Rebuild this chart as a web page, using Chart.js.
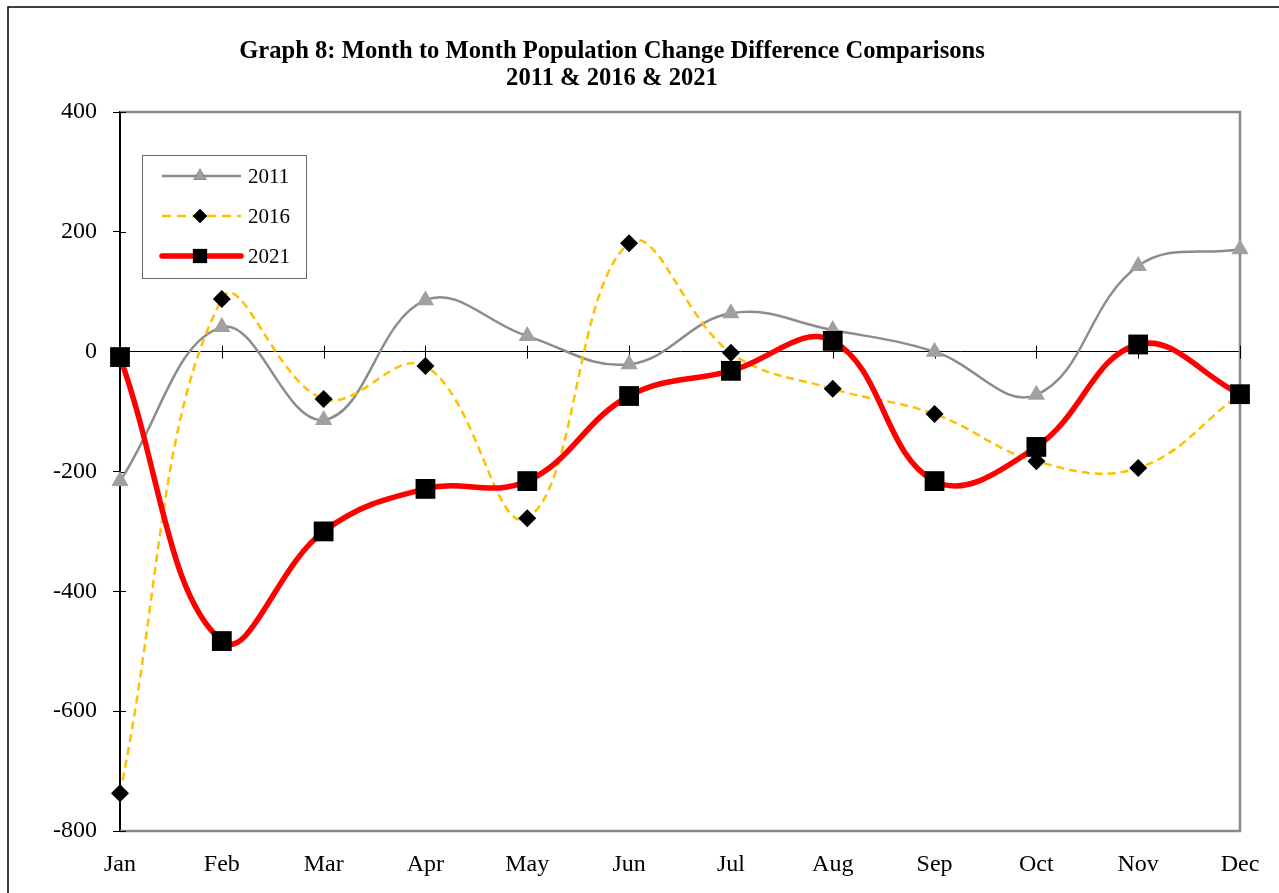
<!DOCTYPE html>
<html>
<head>
<meta charset="utf-8">
<script src="https://cdn.jsdelivr.net/npm/chart.js@4.4.0/dist/chart.umd.min.js"></script>
<style>
html,body{margin:0;padding:0;background:#fff;}
#wrap{position:relative;width:1279px;height:893px;}
</style>
</head>
<body>
<div id="wrap"><canvas id="c" width="1279" height="893"></canvas></div>
<script>
const months = ['Jan','Feb','Mar','Apr','May','Jun','Jul','Aug','Sep','Oct','Nov','Dec'];
const series2011 = [-216, 41, -114, 86, 26, -21, 64, 36, 0, -72, 143, 171];
const series2016 = [-737, 88, -79, -24, -278, 181, -2, -62, -104, -183, -194, -71];
const series2021 = [-9, -483, -300, -229, -216, -74, -32, 18, -216, -159, 12, -71];
const yTicks = [400, 200, 0, -200, -400, -600, -800];
const titleLines = ['Graph 8: Month to Month Population Change Difference Comparisons', '2011 & 2016 & 2021'];
const legendLabels = ['2011', '2016', '2021'];

const SERIF = '"Liberation Serif", "Times New Roman", serif';

const decor = {
  id: 'decor',
  beforeDraw(chart) {
    const ctx = chart.ctx;
    ctx.save();
    ctx.fillStyle = '#fff';
    ctx.fillRect(0, 0, chart.width, chart.height);
    ctx.strokeStyle = '#000';
    ctx.lineWidth = 1.5;
    ctx.strokeRect(8, 7, 1400, 1000);
    ctx.fillStyle = '#000';
    ctx.font = 'bold 24.6px ' + SERIF;
    ctx.textAlign = 'center';
    ctx.textBaseline = 'middle';
    ctx.fillText(titleLines[0], 612, 52);
    ctx.fillText(titleLines[1], 612, 79);
    ctx.restore();
  },
  beforeDatasetsDraw(chart) {
    const ctx = chart.ctx;
    const a = chart.chartArea;
    const xs = chart.scales.x, ys = chart.scales.y;
    ctx.save();
    ctx.strokeStyle = '#888';
    ctx.lineWidth = 2.5;
    ctx.beginPath();
    ctx.moveTo(a.left, a.top);
    ctx.lineTo(a.right, a.top);
    ctx.lineTo(a.right, a.bottom);
    ctx.lineTo(a.left, a.bottom);
    ctx.stroke();
    const y0 = ys.getPixelForValue(0);
    ctx.strokeStyle = '#000';
    ctx.lineWidth = 1;
    ctx.beginPath();
    for (let i = 0; i < months.length; i++) {
      const x = Math.round(xs.getPixelForValue(i)) + 0.5;
      ctx.moveTo(x, y0 - 6);
      ctx.lineTo(x, y0 + 7);
    }
    ctx.stroke();
    ctx.beginPath();
    yTicks.forEach(v => {
      const y = Math.round(ys.getPixelForValue(v)) + 0.5;
      ctx.moveTo(a.left, y);
      ctx.lineTo(a.left + 6, y);
    });
    ctx.stroke();
    ctx.restore();
  },
  afterDraw(chart) {
    const ctx = chart.ctx;
    const ds = chart.data.datasets;
    ctx.save();
    ctx.strokeStyle = '#666';
    ctx.lineWidth = 1;
    ctx.strokeRect(142.5, 155.5, 164, 123);
    const rows = [176, 216, 256];
    const byLabel = {};
    ds.forEach(d => byLabel[d.label] = d);
    legendLabels.forEach((lab, i) => {
      const d = byLabel[lab];
      const y = rows[i];
      ctx.save();
      ctx.strokeStyle = d.borderColor;
      ctx.lineWidth = d.borderWidth;
      ctx.lineCap = d.borderWidth > 3 ? 'round' : 'butt';
      ctx.setLineDash(d.legendDash || []);
      ctx.beginPath();
      ctx.moveTo(162, y);
      ctx.lineTo(241, y);
      ctx.stroke();
      ctx.restore();
      Chart.helpers.drawPoint(ctx, {pointStyle: d.pointStyle, rotation: 0, borderWidth: 0, radius: d.legendRadius}, 200, y);
      ctx.fillStyle = d.pointBackgroundColor;
      ctx.fill();
      ctx.fillStyle = '#000';
      ctx.font = '21px ' + SERIF;
      ctx.textAlign = 'left';
      ctx.textBaseline = 'middle';
      ctx.fillText(lab, 248, y + 1);
    });
    ctx.restore();
  }
};

new Chart(document.getElementById('c'), {
  type: 'line',
  data: {
    labels: months,
    datasets: [
      {
        label: '2021', data: series2021, order: 0,
        borderColor: '#ff0000', borderWidth: 5.5, tension: 0.4,
        pointStyle: 'rect', pointRadius: 14, legendRadius: 10,
        pointBackgroundColor: '#000', pointBorderColor: '#000', pointBorderWidth: 0,
        clip: false
      },
      {
        label: '2016', data: series2016, order: 1,
        borderColor: '#ffc000', borderWidth: 2.5, borderDash: [8, 5], legendDash: [9, 6], tension: 0.4,
        pointStyle: 'rectRot', pointRadius: 9, legendRadius: 7,
        pointBackgroundColor: '#000', pointBorderColor: '#000', pointBorderWidth: 0,
        clip: false
      },
      {
        label: '2011', data: series2011, order: 2,
        borderColor: '#8c8c8c', borderWidth: 2.5, tension: 0.4,
        pointStyle: 'triangle', pointRadius: 10, legendRadius: 7.5,
        pointBackgroundColor: '#a0a0a0', pointBorderColor: '#a0a0a0', pointBorderWidth: 0,
        clip: false
      }
    ]
  },
  options: {
    responsive: false,
    animation: false,
    devicePixelRatio: 1,
    layout: { padding: { top: 112, right: 39, left: 0, bottom: 0 } },
    plugins: { legend: { display: false }, title: { display: false }, tooltip: { enabled: false } },
    scales: {
      x: {
        type: 'category',
        offset: false,
        grid: { display: false },
        border: { display: false },
        ticks: { color: '#000', font: { family: SERIF, size: 24 }, padding: 11, maxRotation: 0, autoSkip: false },
        afterFit(s) { s.height = 62; }
      },
      y: {
        min: -800, max: 400,
        afterBuildTicks(s) { s.ticks = yTicks.map(v => ({ value: v })); },
        grid: {
          drawOnChartArea: true,
          color: c => (c.tick && c.tick.value === 0) ? '#000' : 'rgba(0,0,0,0)',
          lineWidth: 1,
          tickColor: '#000',
          tickLength: 7,
          tickWidth: 1
        },
        border: { display: true, color: '#000', width: 2 },
        ticks: { color: '#000', font: { family: SERIF, size: 24 }, padding: 16 },
        afterFit(s) { s.width = 120; }
      }
    }
  },
  plugins: [decor]
});
</script>
</body>
</html>
